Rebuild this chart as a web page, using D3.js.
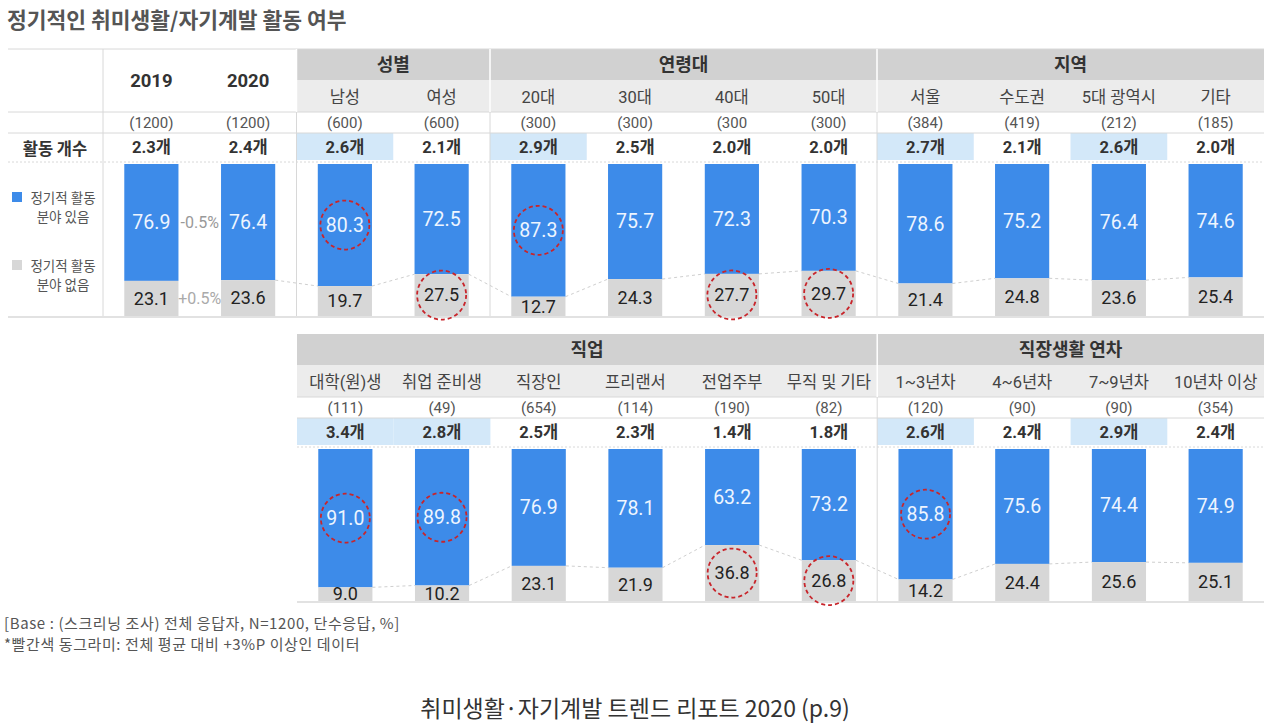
<!DOCTYPE html>
<html>
<head>
<meta charset="utf-8">
<script src="https://cdn.jsdelivr.net/npm/d3@7"></script>
<style>
  body { margin: 0; background: #fff; }
  svg { font-family: Roboto, "Noto Sans CJK KR", sans-serif; }
</style>
</head>
<body>
<div id="chart"></div>
<script>
// ---- data ----
const topCategories = ["2019", "2020", "남성", "여성", "20대", "30대", "40대", "50대", "서울", "수도권", "5대 광역시", "기타"];
const topN = ["(1200)", "(1200)", "(600)", "(600)", "(300)", "(300)", "(300", "(300)", "(384)", "(419)", "(212)", "(185)"];
const topCount = [2.3, 2.4, 2.6, 2.1, 2.9, 2.5, 2.0, 2.0, 2.7, 2.1, 2.6, 2.0];
const topYes = [76.9, 76.4, 80.3, 72.5, 87.3, 75.7, 72.3, 70.3, 78.6, 75.2, 76.4, 74.6];
const topNo = [23.1, 23.6, 19.7, 27.5, 12.7, 24.3, 27.7, 29.7, 21.4, 24.8, 23.6, 25.4];
const topCountHighlight = ["남성", "20대", "서울", "5대 광역시"];
const topCircleYes = ["남성", "20대"];
const topCircleNo = ["여성", "40대", "50대"];
const topGroups = ["성별", "연령대", "지역"];
const topGroupSizes = [2, 4, 4];
const yearCols = ["2019", "2020"];
const yearDiffs = ["-0.5%", "+0.5%"];

const botCategories = ["대학(원)생", "취업 준비생", "직장인", "프리랜서", "전업주부", "무직 및 기타", "1~3년차", "4~6년차", "7~9년차", "10년차 이상"];
const botN = ["(111)", "(49)", "(654)", "(114)", "(190)", "(82)", "(120)", "(90)", "(90)", "(354)"];
const botCount = [3.4, 2.8, 2.5, 2.3, 1.4, 1.8, 2.6, 2.4, 2.9, 2.4];
const botYes = [91.0, 89.8, 76.9, 78.1, 63.2, 73.2, 85.8, 75.6, 74.4, 74.9];
const botNo = [9.0, 10.2, 23.1, 21.9, 36.8, 26.8, 14.2, 24.4, 25.6, 25.1];
const botCountHighlight = ["대학(원)생", "취업 준비생", "1~3년차", "7~9년차"];
const botCircleYes = ["대학(원)생", "취업 준비생", "1~3년차"];
const botCircleNo = ["전업주부", "무직 및 기타"];
const botGroups = ["직업", "직장생활 연차"];
const botGroupSizes = [6, 4];

const legendLabels = [["정기적 활동", "분야 있음"], ["정기적 활동", "분야 없음"]];

// ---- styles ----
const BLUE = "#3d8be9", GRAY = "#d7d7d7", HEAD = "#d1d1d1", SUB = "#ececec", HILITE = "#d3e8f9";
const LINE = "#d8d8d8", RED = "#c8252b";
const KR = "'Noto Sans CJK KR', sans-serif";

const W = 1280, H = 723;
const svg = d3.select("#chart").append("svg").attr("width", W).attr("height", H);

svg.append("text").attr("x", 7).attr("y", 28)
    .attr("font-size", 21.5).attr("font-weight", "bold").attr("fill", "#555")
    .attr("font-family", KR)
    .text("정기적인 취미생활/자기계발 활동 여부");

function drawSection(opt) {
    const top = opt.top;
    const g = svg.append("g");
    const x = d3.scaleBand().domain(opt.cats).range([opt.x0, 1264]).padding(0);
    const bw = x.bandwidth();
    const barW = bw * 0.56;
    const cx = d => x(d) + bw / 2;
    const y = d3.scaleLinear().domain([0, 100]).range([top + 115, top + 267]);
    const rows = {headTop: top, subTop: top + 31, nTop: top + 63, cntTop: top + 84, cntBot: top + 111};

    // group header bands
    let start = opt.groupStart;
    opt.groups.forEach((name, i) => {
        const c0 = opt.cats[start], c1 = opt.cats[start + opt.groupSizes[i] - 1];
        const gx0 = x(c0), gx1 = x(c1) + bw;
        g.append("rect").attr("x", gx0).attr("y", rows.headTop).attr("width", gx1 - gx0).attr("height", 31).attr("fill", HEAD);
        g.append("rect").attr("x", gx0).attr("y", rows.subTop).attr("width", gx1 - gx0).attr("height", 32).attr("fill", SUB);
        g.append("text").attr("x", (gx0 + gx1) / 2).attr("y", rows.headTop + 22)
            .attr("text-anchor", "middle").attr("font-size", 18).attr("font-weight", "bold").attr("fill", "#333")
            .attr("font-family", KR).text(name);
        start += opt.groupSizes[i];
    });

    // count highlight cells
    g.selectAll(".hl").data(opt.hilite).join("rect")
        .attr("x", d => x(d)).attr("y", rows.cntTop).attr("width", bw).attr("height", rows.cntBot - rows.cntTop)
        .attr("fill", HILITE);

    // horizontal rules
    const lx0 = opt.lineX0;
    [rows.subTop + 32, rows.nTop + 21].forEach(yy => {
        g.append("line").attr("x1", lx0).attr("x2", 1264).attr("y1", yy).attr("y2", yy).attr("stroke", LINE);
    });
    g.append("line").attr("x1", lx0).attr("x2", 1264).attr("y1", rows.cntBot + 2).attr("y2", rows.cntBot + 2)
        .attr("stroke", LINE).attr("stroke-dasharray", "2,2");
    g.append("line").attr("x1", lx0).attr("x2", 1264).attr("y1", y(100) + 1).attr("y2", y(100) + 1).attr("stroke", LINE).attr("stroke-width", 1.5);
    if (opt.topRule) {
        g.append("line").attr("x1", lx0).attr("x2", 1264).attr("y1", top).attr("y2", top).attr("stroke", LINE);
    }

    // vertical separators
    opt.vlines.forEach(c => {
        const vx = x(c);
        g.append("line").attr("x1", vx).attr("x2", vx).attr("y1", rows.headTop).attr("y2", rows.subTop + 32).attr("stroke", "#fff").attr("stroke-width", 1.5);
        g.append("line").attr("x1", vx).attr("x2", vx).attr("y1", rows.subTop + 32).attr("y2", y(100)).attr("stroke", LINE);
    });
    opt.extraV.forEach(vx => {
        g.append("line").attr("x1", vx).attr("x2", vx).attr("y1", top).attr("y2", y(100)).attr("stroke", LINE);
    });

    // column labels
    const big = d => opt.bigCols.includes(d);
    g.selectAll(".cat").data(opt.cats).join("text")
        .attr("x", cx)
        .attr("y", d => big(d) ? rows.headTop + 38 : rows.subTop + 23)
        .attr("text-anchor", "middle")
        .attr("font-size", d => big(d) ? 18.5 : 16.5)
        .attr("font-weight", d => big(d) ? "bold" : "normal")
        .attr("fill", d => big(d) ? "#333" : "#444")
        .text(d => d);

    g.selectAll(".n").data(opt.cats).join("text")
        .attr("x", cx).attr("y", rows.nTop + 16)
        .attr("text-anchor", "middle").attr("font-size", 15).attr("fill", "#555")
        .text((d, i) => opt.n[i]);

    g.selectAll(".cnt").data(opt.cats).join("text")
        .attr("x", cx).attr("y", rows.cntTop + 20)
        .attr("text-anchor", "middle").attr("font-size", 16.5).attr("font-weight", "bold").attr("fill", "#333")
        .text((d, i) => opt.count[i].toFixed(1) + "개");

    // connectors between segment boundaries
    const links = d3.range(opt.linkFrom, opt.cats.length - 1);
    g.selectAll(".link").data(links).join("line")
        .attr("x1", i => cx(opt.cats[i]) + barW / 2).attr("y1", i => y(opt.yes[i]))
        .attr("x2", i => cx(opt.cats[i + 1]) - barW / 2).attr("y2", i => y(opt.yes[i + 1]))
        .attr("stroke", "#cfcfcf").attr("stroke-dasharray", "3,3");

    // bars
    g.selectAll(".yes").data(opt.cats).join("rect")
        .attr("x", d => cx(d) - barW / 2).attr("width", barW)
        .attr("y", y(0)).attr("height", (d, i) => y(opt.yes[i]) - y(0))
        .attr("fill", BLUE);
    g.selectAll(".no").data(opt.cats).join("rect")
        .attr("x", d => cx(d) - barW / 2).attr("width", barW)
        .attr("y", (d, i) => y(opt.yes[i])).attr("height", (d, i) => y(100) - y(opt.yes[i]))
        .attr("fill", GRAY);

    const yesMid = i => (y(0) + y(opt.yes[i])) / 2;
    const noMid = i => (y(opt.yes[i]) + y(100)) / 2;

    g.selectAll(".yesLbl").data(opt.cats).join("text")
        .attr("x", cx).attr("y", (d, i) => yesMid(i)).attr("dy", "0.35em")
        .attr("text-anchor", "middle").attr("font-size", 19.5).attr("fill", "#eef5ff")
        .text((d, i) => opt.yes[i].toFixed(1));
    g.selectAll(".noLbl").data(opt.cats).join("text")
        .attr("x", cx).attr("y", (d, i) => noMid(i)).attr("dy", "0.35em")
        .attr("text-anchor", "middle").attr("font-size", 18).attr("fill", "#222")
        .text((d, i) => opt.no[i].toFixed(1));

    // red dashed circles
    const circ = [];
    opt.circleYes.forEach(c => circ.push({c: c, cy: yesMid(opt.cats.indexOf(c))}));
    opt.circleNo.forEach(c => circ.push({c: c, cy: noMid(opt.cats.indexOf(c))}));
    g.selectAll(".circ").data(circ).join("circle")
        .attr("cx", d => cx(d.c)).attr("cy", d => d.cy).attr("r", 24.5)
        .attr("fill", "none").attr("stroke", RED).attr("stroke-width", 1.8).attr("stroke-dasharray", "4,3");

    return {x: x, y: y, cx: cx, yesMid: yesMid, noMid: noMid, barW: barW};
}

const topSec = drawSection({
    top: 49, x0: 103, cats: topCategories, n: topN, count: topCount, yes: topYes, no: topNo,
    hilite: topCountHighlight, circleYes: topCircleYes, circleNo: topCircleNo,
    groups: topGroups, groupSizes: topGroupSizes, groupStart: 2, bigCols: yearCols,
    vlines: ["남성", "20대", "서울"], extraV: [103], lineX0: 8, topRule: true, linkFrom: 1
});

const botSec = drawSection({
    top: 334, x0: 297, cats: botCategories, n: botN, count: botCount, yes: botYes, no: botNo,
    hilite: botCountHighlight, circleYes: botCircleYes, circleNo: botCircleNo,
    groups: botGroups, groupSizes: botGroupSizes, groupStart: 0, bigCols: [],
    vlines: ["1~3년차"], extraV: [], lineX0: 297, topRule: false, linkFrom: 0
});

// year-over-year differences
const midX = (topSec.cx("2019") + topSec.cx("2020")) / 2;
svg.append("text").attr("x", midX).attr("y", (topSec.yesMid(0) + topSec.yesMid(1)) / 2).attr("dy", "0.35em")
    .attr("text-anchor", "middle").attr("font-size", 16).attr("fill", "#999").text(yearDiffs[0]);
svg.append("text").attr("x", midX).attr("y", (topSec.noMid(0) + topSec.noMid(1)) / 2).attr("dy", "0.35em")
    .attr("text-anchor", "middle").attr("font-size", 16).attr("fill", "#aaa").text(yearDiffs[1]);

// left label column
svg.append("text").attr("x", 55).attr("y", 155).attr("text-anchor", "middle")
    .attr("font-size", 16.5).attr("font-weight", "bold").attr("fill", "#333")
    .attr("font-family", KR).text("활동 개수");

const legendY = [192, 260];
legendLabels.forEach((lines, i) => {
    svg.append("rect").attr("x", 12).attr("y", legendY[i]).attr("width", 10).attr("height", 10)
        .attr("fill", i === 0 ? BLUE : GRAY);
    lines.forEach((t, j) => {
        svg.append("text").attr("x", 63).attr("y", legendY[i] + 11 + j * 19).attr("text-anchor", "middle")
            .attr("font-size", 13.5).attr("fill", "#555")
            .attr("font-family", KR).text(t);
    });
});

// footnotes
const notes = ["[Base : (스크리닝 조사) 전체 응답자, N=1200, 단수응답, %]", "*빨간색 동그라미: 전체 평균 대비 +3%P 이상인 데이터"];
notes.forEach((t, i) => {
    svg.append("text").attr("x", 4).attr("y", 629 + i * 21).attr("font-size", 15).attr("fill", "#555")
        .attr("letter-spacing", 0.6).attr("font-family", KR).text(t);
});

svg.append("text").attr("x", 635).attr("y", 717).attr("text-anchor", "middle")
    .attr("font-size", 23).attr("fill", "#333")
    .attr("font-family", KR)
    .text("취미생활·자기계발 트렌드 리포트 2020 (p.9)");
</script>
</body>
</html>
